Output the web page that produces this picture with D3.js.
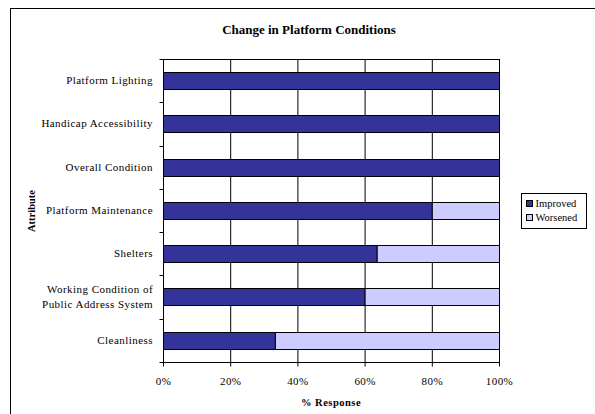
<!DOCTYPE html>
<html>
<head>
<meta charset="utf-8">
<script src="https://cdn.jsdelivr.net/npm/d3@7/dist/d3.min.js"></script>
<style>
  html, body { margin: 0; padding: 0; background: #fff; }
  svg { display: block; font-family: "Liberation Serif", "Times New Roman", serif; }
</style>
</head>
<body>
<svg id="chart" width="595" height="414"></svg>
<script>
// Chart data
const categories = [
    "Platform Lighting",
    "Handicap Accessibility",
    "Overall Condition",
    "Platform Maintenance",
    "Shelters",
    "Working Condition of\nPublic Address System",
    "Cleanliness",
];
const improved = [100, 100, 100, 80, 63.6, 60, 33.3];
const worsened = [0, 0, 0, 20, 36.4, 40, 66.7];
const seriesNames = ["Improved", "Worsened"];
const seriesColors = ["#333399", "#CCCCFF"];
const xTicks = [0, 20, 40, 60, 80, 100];

const svg = d3.select('#chart');

// Outer chart border (runs off right/bottom edges)
svg.append('rect')
    .attr('x', 10.5).attr('y', 8.5)
    .attr('width', 620).attr('height', 440)
    .attr('fill', 'none')
    .attr('stroke', '#000')
    .attr('stroke-width', 1);

const plot = { left: 163, right: 499, top: 59, bottom: 362 };

const x = d3.scaleLinear().domain([0, 100]).range([plot.left, plot.right]);
const y = d3.scaleBand().domain(categories).range([plot.top, plot.bottom]).paddingInner(0.6).paddingOuter(0.3);

// Gridlines
svg.append('g')
    .selectAll('line')
    .data(xTicks.slice(1))
    .join('line')
    .attr('x1', d => x(d) + 0.5).attr('x2', d => x(d) + 0.5)
    .attr('y1', plot.top).attr('y2', plot.bottom)
    .attr('stroke', '#000')
    .attr('stroke-width', 1);

// Plot top border
svg.append('line')
    .attr('x1', plot.left).attr('x2', plot.right + 1)
    .attr('y1', plot.top + 0.5).attr('y2', plot.top + 0.5)
    .attr('stroke', '#000');

// Stacked bars
const stackData = categories.map((c, i) => ({ cat: c, Improved: improved[i], Worsened: worsened[i] }));
const stacked = d3.stack().keys(seriesNames)(stackData);

svg.append('g')
    .selectAll('g')
    .data(stacked)
    .join('g')
    .attr('fill', (d, i) => seriesColors[i])
    .selectAll('rect')
    .data(d => d.filter(s => s[1] - s[0] > 0))
    .join('rect')
    .attr('x', d => x(d[0]) + 0.5)
    .attr('y', d => Math.round(y(d.data.cat)) + 0.5)
    .attr('width', d => x(d[1]) - x(d[0]))
    .attr('height', Math.round(y.bandwidth()))
    .attr('stroke', '#000')
    .attr('stroke-width', 1);

// Y axis
const yAxis = svg.append('g')
    .attr('transform', `translate(${plot.left + 0.5},0)`);
yAxis.append('line')
    .attr('y1', plot.top).attr('y2', plot.bottom + 1)
    .attr('stroke', '#000');
const bandStep = (plot.bottom - plot.top) / categories.length;
yAxis.selectAll('.tick')
    .data(d3.range(categories.length + 1))
    .join('line')
    .attr('x1', -4).attr('x2', 0)
    .attr('y1', i => Math.round(plot.top + i * bandStep) + 0.5)
    .attr('y2', i => Math.round(plot.top + i * bandStep) + 0.5)
    .attr('stroke', '#000');

const catLabels = svg.append('g')
    .selectAll('text')
    .data(categories)
    .join('text')
    .attr('y', d => y(d) + y.bandwidth() / 2)
    .attr('text-anchor', 'end')
    .attr('font-size', '11px')
    .attr('letter-spacing', '0.45px')
    .attr('fill', '#000');
catLabels.each(function(d) {
    const lines = d.split('\n');
    const t = d3.select(this);
    lines.forEach((ln, k) => {
        t.append('tspan')
            .attr('x', 153)
            .attr('dy', k === 0 ? ((-(lines.length - 1) * 15 / 2) + 3.5) : 15)
            .text(ln);
    });
});

// X axis
const xAxis = svg.append('g')
    .attr('transform', `translate(0,${plot.bottom + 0.5})`);
xAxis.append('line')
    .attr('x1', plot.left).attr('x2', plot.right + 1)
    .attr('stroke', '#000');
xAxis.selectAll('line.tk')
    .data(xTicks)
    .join('line')
    .attr('class', 'tk')
    .attr('x1', d => x(d) + 0.5).attr('x2', d => x(d) + 0.5)
    .attr('y1', 0).attr('y2', 4)
    .attr('stroke', '#000');
xAxis.selectAll('text')
    .data(xTicks)
    .join('text')
    .attr('x', d => x(d) + 0.5)
    .attr('y', 22)
    .attr('text-anchor', 'middle')
    .attr('font-size', '11px')
    .attr('letter-spacing', '0.4px')
    .text(d => d + '%');

// Titles
svg.append('text')
    .attr('x', 309).attr('y', 34)
    .attr('text-anchor', 'middle')
    .attr('font-size', '13px')
    .attr('font-weight', 'bold')
    .text('Change in Platform Conditions');

svg.append('text')
    .attr('x', 331).attr('y', 406)
    .attr('text-anchor', 'middle')
    .attr('font-size', '10.5px')
    .attr('font-weight', 'bold')
    .attr('letter-spacing', '0.5px')
    .text('% Response');

svg.append('text')
    .attr('transform', 'translate(35,211) rotate(-90)')
    .attr('text-anchor', 'middle')
    .attr('font-size', '10.5px')
    .attr('font-weight', 'bold')
    .text('Attribute');

// Legend
const legend = svg.append('g').attr('transform', 'translate(521.5,193.5)');
legend.append('rect')
    .attr('width', 65).attr('height', 35)
    .attr('fill', '#fff')
    .attr('stroke', '#000');
const li = legend.selectAll('g')
    .data(seriesNames)
    .join('g')
    .attr('transform', (d, i) => `translate(5,${10 + i * 14})`);
li.append('rect')
    .attr('x', 0).attr('y', -3)
    .attr('width', 6).attr('height', 6)
    .attr('fill', (d, i) => seriesColors[i])
    .attr('stroke', '#000');
li.append('text')
    .attr('x', 9).attr('y', 3.5)
    .attr('font-size', '10.5px')
    .text(d => d);
</script>
</body>
</html>
